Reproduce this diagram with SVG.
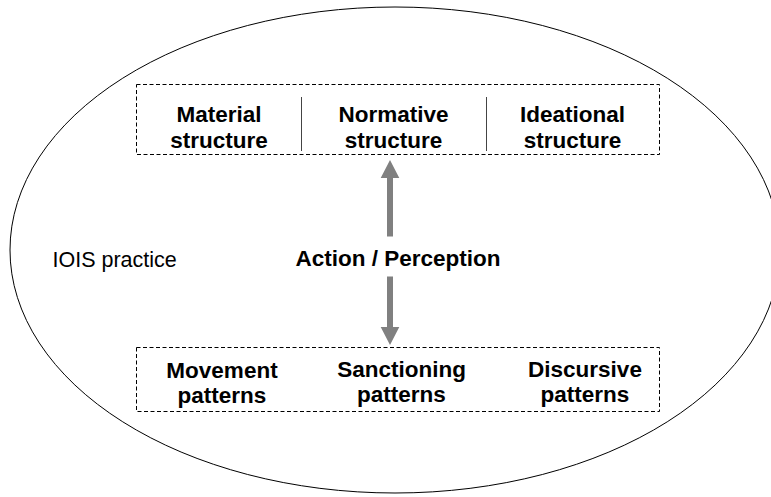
<svg xmlns="http://www.w3.org/2000/svg" width="771" height="497" viewBox="0 0 771 497">
<style>
text{font-family:"Liberation Sans",Arial,sans-serif;fill:#000}
.b{font-weight:bold;font-size:22.5px;text-anchor:middle}
.box{fill:none;stroke:#000;stroke-width:1;stroke-dasharray:4 2.5}
.div{stroke:#444;stroke-width:1}
.arr{fill:#808080}
</style>
<rect width="771" height="497" fill="#fff"/>
<g id="practice">
<ellipse cx="395" cy="250" rx="385" ry="243" fill="none" stroke="#000" stroke-width="1"/>
<text x="52.5" y="267" font-size="21.5">IOIS practice</text>
</g>
<g id="structures">
<rect class="box" x="136.5" y="84.5" width="523" height="70"/>
<line class="div" x1="301.5" y1="97" x2="301.5" y2="151"/>
<line class="div" x1="486.5" y1="97" x2="486.5" y2="151"/>
<text class="b" x="219" y="122">Material</text>
<text class="b" x="219" y="148">structure</text>
<text class="b" x="393.5" y="122">Normative</text>
<text class="b" x="393.5" y="148">structure</text>
<text class="b" x="572.5" y="122">Ideational</text>
<text class="b" x="572.5" y="148">structure</text>
</g>
<g id="patterns">
<rect class="box" x="136.5" y="347.5" width="523" height="64"/>
<text class="b" x="222" y="378">Movement</text>
<text class="b" x="222" y="403">patterns</text>
<text class="b" x="401.5" y="377">Sanctioning</text>
<text class="b" x="401.5" y="402">patterns</text>
<text class="b" x="585" y="377">Discursive</text>
<text class="b" x="585" y="402">patterns</text>
</g>
<g id="connectors">
<path class="arr" d="M390,160 L399.3,178 L393,178 L393,236.5 L387,236.5 L387,178 L380.7,178 Z"/>
<path class="arr" d="M390,345 L399.3,327 L393,327 L393,276.5 L387,276.5 L387,327 L380.7,327 Z"/>
<text class="b" x="398" y="266">Action / Perception</text>
</g>
</svg>
